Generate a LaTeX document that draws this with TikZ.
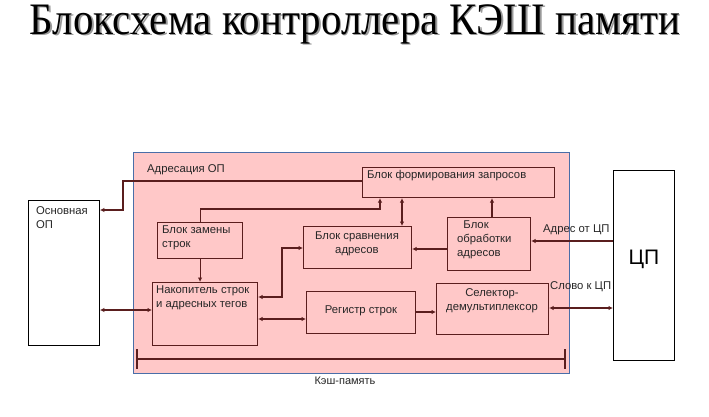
\documentclass[tikz,border=0pt]{standalone}
\usepackage{fontspec}
\setmainfont{Liberation Serif}
\newfontfamily\diag{Liberation Sans}
\usetikzlibrary{arrows.meta}
\definecolor{cachepink}{HTML}{FFC8C8}
\definecolor{framebl}{HTML}{4A6EA8}
\definecolor{wire}{HTML}{5A1E1E}
\newcommand{\ttltext}{Блоксхема контроллера КЭШ памяти}
\tikzset{
  box/.style={draw=wire, line width=1.1pt, inner sep=0pt, anchor=north west},
  wbox/.style={draw=black, line width=0.9pt, fill=white, inner sep=0pt, anchor=north west},
  txt/.style={font=\diag\fontsize{11.3}{14}\selectfont, text=black!85, inner sep=0pt},
  tip/.tip={Latex[length=4.5pt,width=4.5pt]},
  arr/.style={draw=wire, line width=1.1pt, -tip},
  darr/.style={draw=wire, line width=1.1pt, tip-tip},
  plain/.style={draw=wire, line width=1.1pt},
}
\begin{document}
\begin{tikzpicture}[x=1pt,y=-1pt]
\useasboundingbox (0,0) rectangle (709,416);
% title with shadow
\node[font=\fontsize{45}{50}\selectfont, anchor=base, inner sep=0pt] (title) at (355,34)
  {\scalebox{0.91}[1]{\rlap{\kern1.8pt\raisebox{-1.8pt}{\textcolor{black!40}{\ttltext}}}\ttltext}};
% cache area
\fill[cachepink] (133,152) rectangle (569,373);
\draw[framebl, line width=0.8pt] (133,152) rectangle (569,373);
% outer boxes
\node[wbox, minimum width=71pt, minimum height=145pt] (osn) at (28,200) {};
\node[txt, anchor=north west, align=left] (osntxt) at (36,206) {Основная\\ОП};
\node[wbox, minimum width=61pt, minimum height=190pt] (cpu) at (613,170) {};
\node[font=\diag\fontsize{21}{24}\selectfont, inner sep=0pt] (cputxt) at (644,259) {ЦП};
% inner boxes
\node[box, minimum width=192pt, minimum height=30pt] (req) at (362,167) {};
\node[txt, anchor=west] (reqtxt) at (367,176) {Блок формирования запросов};
\node[box, minimum width=85pt, minimum height=36pt] (zam) at (157,222) {};
\node[txt, anchor=north west, align=left] (zamtxt) at (162,226) {Блок замены\\строк};
\node[box, minimum width=108pt, minimum height=42pt] (cmp) at (303,226) {};
\node[txt, align=center] (cmptxt) at (357,244) {Блок сравнения\\адресов};
\node[box, minimum width=83pt, minimum height=53pt] (obr) at (447,217) {};
\node[txt, anchor=north west, align=left] (obrtxt) at (457,221) {\ \ Блок\\обработки\\адресов};
\node[box, minimum width=105pt, minimum height=63pt] (nak) at (152,282) {};
\node[txt, anchor=north west, align=left] (naktxt) at (156,286) {Накопитель строк\\и адресных тегов};
\node[box, minimum width=109pt, minimum height=42pt] (reg) at (306,291) {};
\node[txt] (regtxt) at (361,311) {Регистр строк};
\node[box, minimum width=112pt, minimum height=51pt] (sel) at (436,283) {};
\node[txt, anchor=north, align=center] (seltxt) at (492,288) {Селектор-\\демультиплексор};
% labels
\node[txt, anchor=west] (adrop) at (147,170) {Адресация ОП};
\node[txt, anchor=west] (adrcpu) at (543,230) {Адрес от ЦП};
\node[txt, anchor=west] (slovo) at (550,287) {Слово к ЦП};
% connectors
\draw[arr] (req.west |- 0,181) -- (123,181) -- (123,210) -- (osn.east |- 0,210);
\draw[arr] (zam.north) |- (380,209) -- (req.south -| 380,0);
\draw[darr] (req.south -| 402,0) -- (cmp.north -| 402,0);
\draw[arr] (obr.north -| 492,0) -- (req.south -| 492,0);
\draw[arr] (obr.west |- 0,249) -- (cmp.east |- 0,249);
\draw[arr] (cpu.west |- 0,241) -- (obr.east |- 0,241);
\draw[arr] (zam.south) -- (zam.south |- nak.north);
\draw[darr] (cmp.west |- 0,248) -| (282,297) -- (nak.east |- 0,297);
\draw[darr] (nak.east |- 0,319) -- (reg.west |- 0,319);
\draw[arr] (reg.east |- 0,312) -- (sel.west |- 0,312);
\draw[darr] (sel.east |- 0,308) -- (cpu.west |- 0,308);
\draw[darr] (osn.east |- 0,310) -- (nak.west |- 0,310);
% cache bracket
\coordinate (bl) at (137,359);
\coordinate (br) at (565,359);
\draw[plain] (bl) -- (br);
\draw[plain] (137,349) -- (137,369);
\draw[plain] (565,349) -- (565,369);
\node[txt, font=\diag\fontsize{11}{13}\selectfont] (kesh) at (345,381) {Кэш-память};
\end{tikzpicture}
\end{document}
